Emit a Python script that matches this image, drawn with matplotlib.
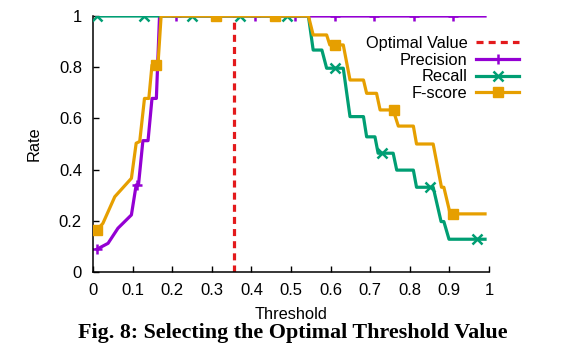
import numpy as np
import matplotlib
matplotlib.use('Agg')
import matplotlib.pyplot as plt

# Data
optimal_threshold = 0.355

prec_x = [0.01, 0.038, 0.063, 0.097, 0.109, 0.115, 0.126, 0.139, 0.149, 0.16, 0.168, 0.99]
prec_y = [0.089, 0.112, 0.171, 0.223, 0.34, 0.342, 0.513, 0.513, 0.678, 0.678, 1.0, 1.0]
prec_mx = [0.01, 0.11, 0.21, 0.31, 0.41, 0.51, 0.61, 0.71, 0.81, 0.91]
prec_my = [0.089, 0.34, 1.0, 1.0, 1.0, 1.0, 1.0, 1.0, 1.0, 1.0]

rec_x = [0.01, 0.544, 0.556, 0.578, 0.59, 0.632, 0.649, 0.683, 0.691, 0.712, 0.72,
         0.758, 0.767, 0.809, 0.817, 0.859, 0.879, 0.886, 0.899, 0.99]
rec_y = [1.0, 1.0, 0.867, 0.867, 0.796, 0.796, 0.607, 0.607, 0.528, 0.528, 0.464,
         0.464, 0.398, 0.398, 0.331, 0.331, 0.197, 0.197, 0.128, 0.128]
rec_mx = [0.01, 0.13, 0.25, 0.37, 0.49, 0.61, 0.73, 0.85, 0.97]
rec_my = [1.0, 1.0, 1.0, 1.0, 1.0, 0.796, 0.464, 0.331, 0.128]

f_x = [0.01, 0.025, 0.055, 0.097, 0.109, 0.118, 0.13, 0.141, 0.149, 0.164, 0.172, 0.544,
       0.556, 0.59, 0.598, 0.632, 0.649, 0.683, 0.691, 0.716, 0.725, 0.758, 0.771,
       0.809, 0.817, 0.859, 0.88, 0.886, 0.902, 0.99]
f_y = [0.164, 0.19, 0.294, 0.366, 0.503, 0.51, 0.678, 0.678, 0.809, 0.809, 1.0, 1.0,
       0.926, 0.926, 0.887, 0.887, 0.75, 0.75, 0.698, 0.698, 0.633, 0.633, 0.57,
       0.57, 0.5, 0.5, 0.331, 0.331, 0.227, 0.227]
f_mx = [0.01, 0.16, 0.31, 0.46, 0.61, 0.76, 0.91]
f_my = [0.164, 0.809, 1.0, 1.0, 0.887, 0.633, 0.227]

x_ticks = [0, 0.1, 0.2, 0.3, 0.4, 0.5, 0.6, 0.7, 0.8, 0.9, 1]
x_labels = ['0', '0.1', '0.2', '0.3', '0.4', '0.5', '0.6', '0.7', '0.8', '0.9', '1']
y_ticks = [0, 0.2, 0.4, 0.6, 0.8, 1]
y_labels = ['0', '0.2', '0.4', '0.6', '0.8', '1']

purple = '#9400d3'
green = '#009e73'
orange = '#e69f00'
red = '#e31a1c'

plt.rcParams['font.family'] = ['Liberation Sans', 'DejaVu Sans']

fig = plt.figure(figsize=(5.81, 3.54), dpi=100)
ax = fig.add_axes([93/581, 1 - 272/354, 396/581, 256/354])

lw = 2.3
ax.axvline(optimal_threshold, color=red, lw=lw, dashes=(2.2, 1.6), zorder=1)

ax.plot(prec_x, prec_y, color=purple, lw=lw, zorder=2)
ax.plot(prec_mx, prec_my, ls='none', marker='+', ms=7.5, mew=1.8, color=purple, zorder=2)
ax.plot(rec_x, rec_y, color=green, lw=lw, zorder=3)
ax.plot(rec_mx, rec_my, ls='none', marker='x', ms=6.5, mew=1.8, color=green, zorder=3)
ax.plot(f_x, f_y, color=orange, lw=lw, zorder=4)
ax.plot(f_mx, f_my, ls='none', marker='s', ms=7, color=orange, zorder=4)

# Legend handles
h_opt, = ax.plot([], [], color=red, lw=lw, dashes=(2.2, 1.6))
h_p, = ax.plot([], [], color=purple, lw=lw, marker='+', ms=7.5, mew=1.8)
h_r, = ax.plot([], [], color=green, lw=lw, marker='x', ms=6.5, mew=1.8)
h_f, = ax.plot([], [], color=orange, lw=lw, marker='s', ms=7)

leg = fig.legend([h_opt, h_p, h_r, h_f], ['Optimal Value', 'Precision', 'Recall', 'F-score'],
                 loc='upper right', bbox_to_anchor=(519/581, 1 - 36/354),
                 frameon=False, markerfirst=False, fontsize=11.8, borderpad=0,
                 handlelength=2.6, handletextpad=0.55, labelspacing=0.1,
                 borderaxespad=0)
for t in leg.get_texts():
    t.set_ha('right')

ax.set_xlim(0, 1)
ax.set_ylim(0, 1)
ax.set_xticks(x_ticks)
ax.set_xticklabels(x_labels)
ax.set_yticks(y_ticks)
ax.set_yticklabels(y_labels)
ax.tick_params(direction='in', length=4, width=1, labelsize=12, pad=8)
ax.spines['top'].set_visible(False)
ax.spines['right'].set_visible(False)
ax.spines['left'].set_linewidth(1.1)
ax.spines['bottom'].set_linewidth(1.1)

ax.set_xlabel('Threshold', fontsize=11.8)
ax.set_ylabel('Rate', fontsize=11.8)
ax.xaxis.set_label_coords(0.5, -0.135)
ax.yaxis.set_label_coords(-0.13, 0.5)

fig.text(293/581, 1 - 338/354, 'Fig. 8: Selecting the Optimal Threshold Value',
         ha='center', va='baseline', fontsize=15.8, fontweight='bold',
         family=['Liberation Serif', 'DejaVu Serif'])

fig.savefig('out.png', dpi=100)
